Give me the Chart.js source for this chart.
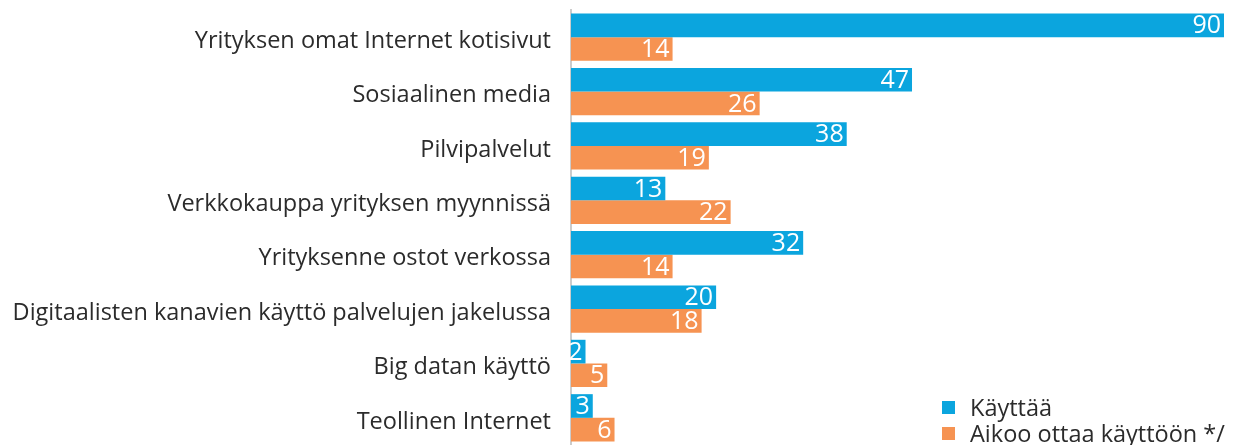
<!DOCTYPE html>
<html>
<head>
<meta charset="utf-8">
<script src="https://cdn.jsdelivr.net/npm/chart.js@4.4.1/dist/chart.umd.min.js"></script>
<style>
  html, body { margin: 0; padding: 0; background: #fff; overflow: hidden; }
  #wrap { position: relative; width: 1235px; height: 445px; }
  #legend { position: absolute; left: 942px; top: 394px; font-family: "Open Sans", sans-serif; font-size: 23.5px; color: #2b2b2b; }
  #legend div { display: flex; align-items: center; height: 26px; white-space: nowrap; }
  #legend span.box { display: inline-block; width: 13px; height: 13px; margin-right: 15px; }
</style>
</head>
<body>
<div id="wrap">
  <canvas id="chart" width="1235" height="445"></canvas>
  <div id="legend"></div>
</div>
<script>
// categories and values
const categories = [
  'Yrityksen omat Internet kotisivut',
  'Sosiaalinen media',
  'Pilvipalvelut',
  'Verkkokauppa yrityksen myynnissä',
  'Yrityksenne ostot verkossa',
  'Digitaalisten kanavien käyttö palvelujen jakelussa',
  'Big datan käyttö',
  'Teollinen Internet'
];
const kayttaa = [90, 47, 38, 13, 32, 20, 2, 3];
const aikoo = [14, 26, 19, 22, 14, 18, 5, 6];
const seriesNames = ['Käyttää', 'Aikoo ottaa käyttöön */'];
const seriesColors = ['#0ba5de', '#f69352'];

// values drawn inside bar ends
const valueLabels = {
  id: 'valueLabels',
  afterDatasetsDraw(chart) {
    const ctx = chart.ctx;
    ctx.save();
    ctx.font = '500 25px "Open Sans", sans-serif';
    ctx.fillStyle = '#ffffff';
    ctx.textAlign = 'right';
    ctx.textBaseline = 'middle';
    chart.data.datasets.forEach((ds, i) => {
      chart.getDatasetMeta(i).data.forEach((bar, j) => {
        ctx.fillText(ds.data[j], bar.x - 3, bar.y + 1);
      });
    });
    ctx.restore();
  }
};

const ctx = document.getElementById('chart').getContext('2d');
new Chart(ctx, {
  type: 'bar',
  data: {
    labels: categories,
    datasets: [
      { label: seriesNames[0], data: kayttaa, backgroundColor: seriesColors[0] },
      { label: seriesNames[1], data: aikoo, backgroundColor: seriesColors[1] }
    ]
  },
  options: {
    indexAxis: 'y',
    responsive: false,
    animation: false,
    layout: { padding: { top: 10, right: 11, bottom: -3, left: 0 } },
    datasets: {
      bar: { categoryPercentage: 0.87, barPercentage: 1.0 }
    },
    scales: {
      x: { display: false, min: 0, max: 90 },
      y: {
        afterFit: function(scale) {
          scale.width = 571;
          scale.paddingTop = 0;
          scale.paddingBottom = 0;
        },
        grid: { display: false },
        border: { display: true, color: '#cccccc', width: 2 },
        ticks: {
          padding: 12,
          labelOffset: 4,
          color: '#2b2b2b',
          font: { family: '"Open Sans", sans-serif', size: 23.5 }
        }
      }
    },
    plugins: {
      legend: { display: false },
      tooltip: { enabled: false }
    }
  },
  plugins: [valueLabels]
});

// legend
const legend = document.getElementById('legend');
seriesNames.forEach((name, i) => {
  const row = document.createElement('div');
  row.innerHTML = '<span class="box" style="background:' + seriesColors[i] + '"></span>' + name;
  legend.appendChild(row);
});
</script>
</body>
</html>
